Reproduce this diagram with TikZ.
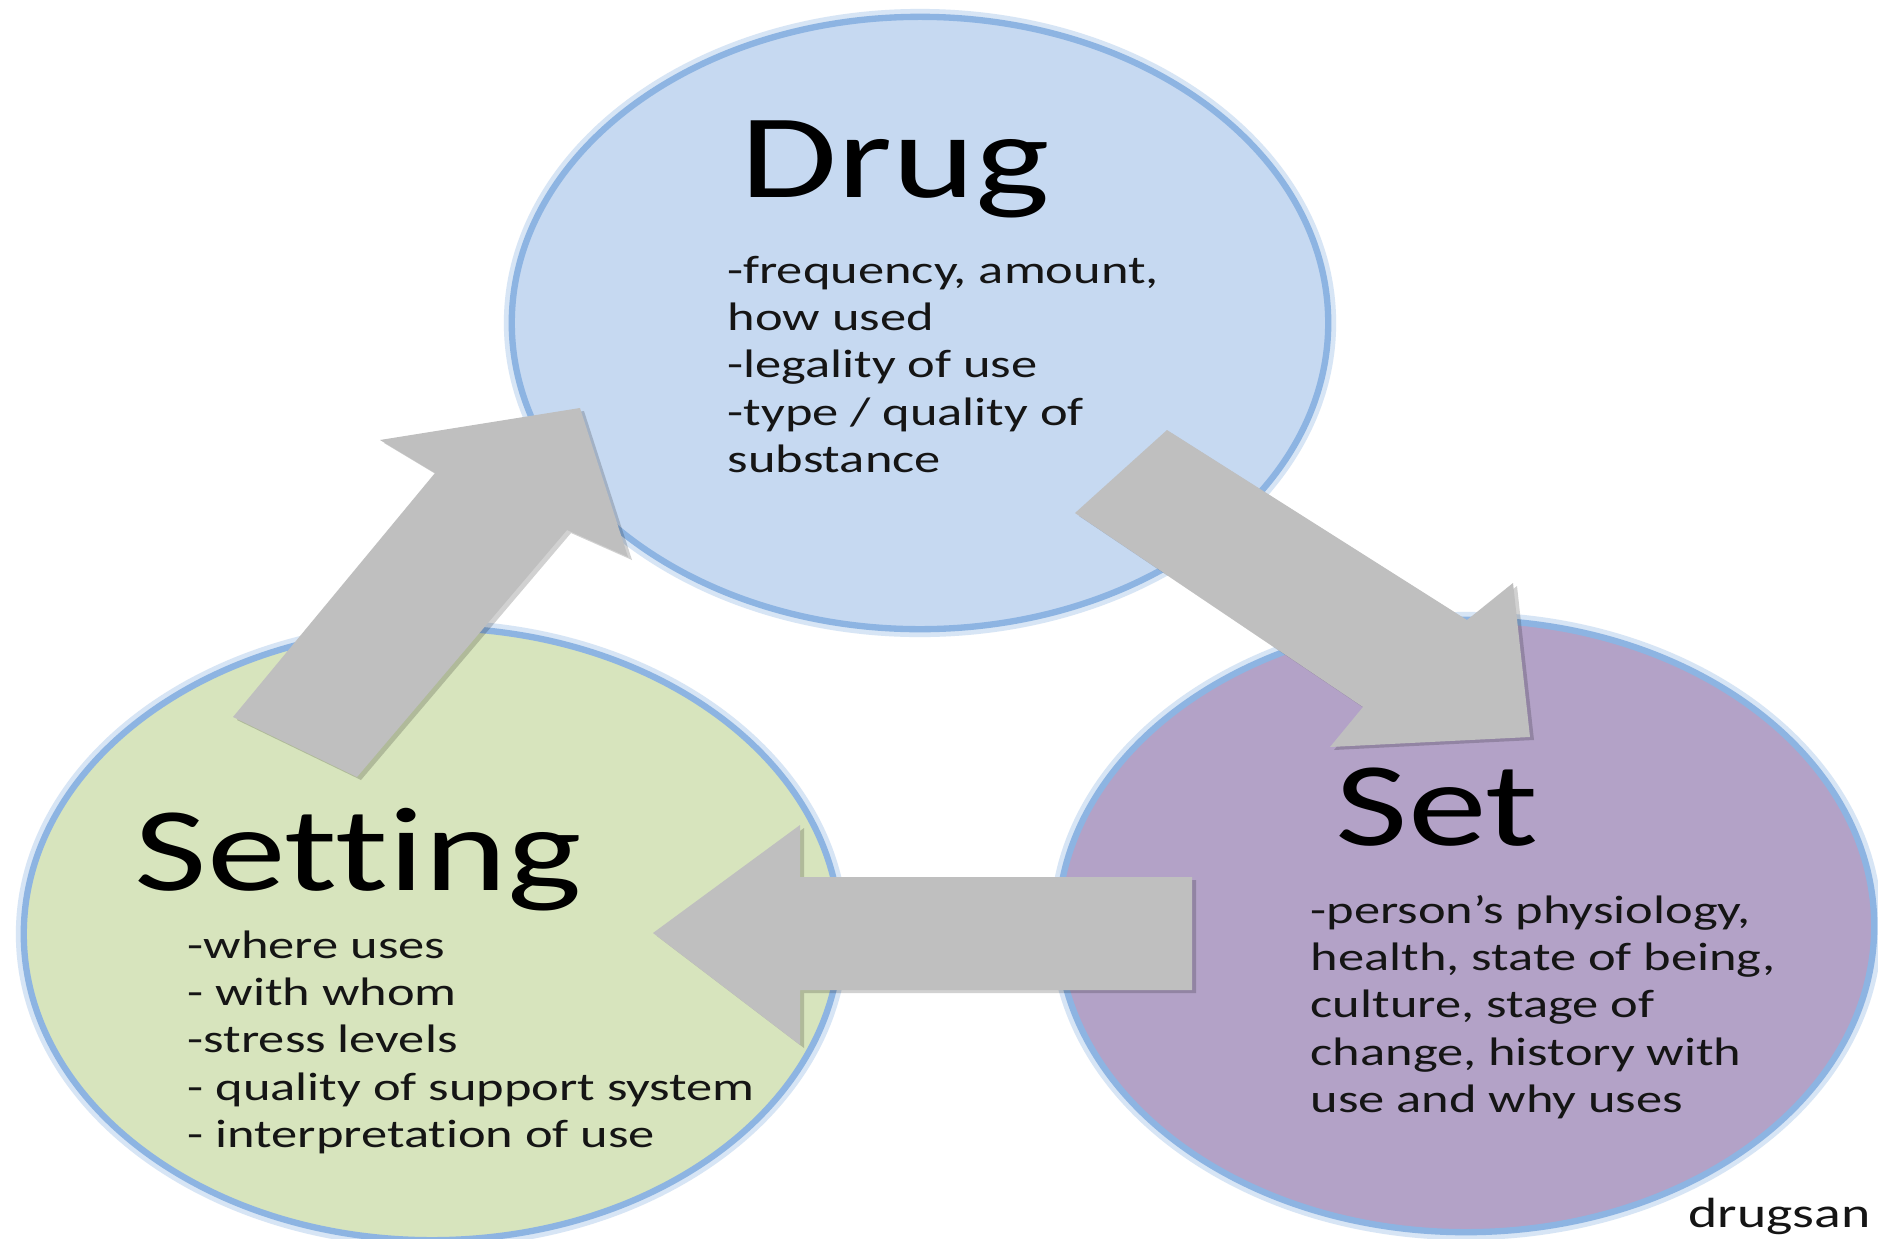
\documentclass[tikz,border=0pt]{standalone}
\usepackage{fontspec}
\setmainfont{Carlito}[Ligatures={NoCommon}]
\usepackage{graphicx}
\usetikzlibrary{shapes.geometric}
\definecolor{drugfill}{HTML}{C6D9F1}
\definecolor{settingfill}{HTML}{D7E4BD}
\definecolor{setfill}{HTML}{B3A2C7}
\definecolor{ringblue}{HTML}{8DB4E2}
\definecolor{arrowgray}{HTML}{BFBFBF}
\definecolor{bodytext}{HTML}{151515}
\newcommand{\sx}[1]{\scalebox{1.32}[1]{#1}}
\begin{document}
\begin{tikzpicture}[x=0.01cm,y=-0.01cm,
  circ/.style={ellipse, minimum width=8.16cm, minimum height=6.12cm, inner sep=0pt,
     draw=ringblue, line width=1.8pt,
     preaction={draw=ringblue!35, line width=4.5pt}},
  bigarrow/.style={fill=arrowgray},
  arrowshade/.style={fill=black, opacity=0.18},
  titletext/.style={anchor=base west, inner sep=0pt, font=\fontsize{34}{40}\selectfont, text=black},
  bodytxt/.style={anchor=base west, inner sep=0pt, font=\fontsize{11.3}{13.5}\selectfont, text=bodytext}]
\useasboundingbox (0,0) rectangle (1878,1239);
\clip (0,0) rectangle (1878,1239);
\fill[white] (0,0) rectangle (1878,1239);

% circles
\node[circ, fill=drugfill] (drug) at (920,323) {};
\node[circ, fill=settingfill] (setting) at (432,934) {};
\node[circ, fill=setfill] (set) at (1466,926) {};

% arrow shadows
\begin{scope}[shift={(4,3)}]
\fill[arrowshade] (233,717) -- (435,473) -- (380,440) -- (580,408) -- (628,557) -- (567,530) -- (357,777) -- cycle;
\fill[arrowshade] (1075,513) -- (1167,430) -- (1467,620) -- (1513,583) -- (1530,737) -- (1330,747) -- (1363,707) -- cycle;
\fill[arrowshade] (653,933) -- (800,825) -- (800,877) -- (1192,877) -- (1192,990) -- (800,990) -- (800,1045) -- cycle;
\end{scope}

% arrows: setting -> drug, drug -> set, set -> setting
\fill[bigarrow] (233,717) -- (435,473) -- (380,440) -- (580,408) -- (628,557) -- (567,530) -- (357,777) -- cycle;
\fill[bigarrow] (1075,513) -- (1167,430) -- (1467,620) -- (1513,583) -- (1530,737) -- (1330,747) -- (1363,707) -- cycle;
\fill[bigarrow] (653,933) -- (800,825) -- (800,877) -- (1192,877) -- (1192,990) -- (800,990) -- (800,1045) -- cycle;

% texts
\node[titletext] (drugtitle) at (740,197) {\sx{Drug}};
\node[bodytxt] (drugbody) at (727,283) {\sx{\begin{tabular}[t]{@{}l@{}}-frequency, amount,\\how used\\-legality of use\\-type / quality of\\substance\end{tabular}}};

\node[titletext] (settingtitle) at (134,890) {\sx{Setting}};
\node[bodytxt] (settingbody) at (187,958) {\sx{\begin{tabular}[t]{@{}l@{}}-where uses\\- with whom\\-stress levels\\- quality of support system\\- interpretation of use\end{tabular}}};

\node[titletext] (settitle) at (1335,845) {\sx{Set}};
\node[bodytxt] (setbody) at (1310,923) {\sx{\begin{tabular}[t]{@{}l@{}}-person’s physiology,\\health, state of being,\\culture, stage of\\change, history with\\use and why uses\end{tabular}}};

\node[anchor=base west, inner sep=0pt, font=\fontsize{12}{14}\selectfont, text=bodytext] (source) at (1688,1227) {\sx{drugsan}};
\end{tikzpicture}
\end{document}
